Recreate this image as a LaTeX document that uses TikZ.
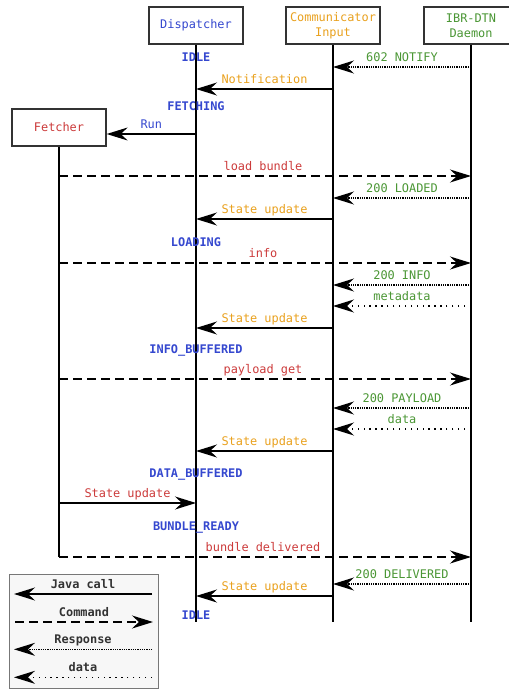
\documentclass[tikz,border=0pt]{standalone}
\usepackage{fontspec}
\setmainfont{DejaVu Sans Mono}
\usetikzlibrary{arrows.meta}
\definecolor{cblue}{HTML}{3548CF}
\definecolor{corange}{HTML}{E9A11E}
\definecolor{cgreen}{HTML}{4A9634}
\definecolor{cred}{HTML}{CC3B3B}
\definecolor{cframe}{HTML}{333333}
\definecolor{lgfill}{HTML}{F7F7F7}
\definecolor{lgframe}{HTML}{777777}
\begin{document}
\begin{tikzpicture}[x=1pt,y=-1pt,
  every node/.style={font=\fontsize{11.9}{15}\selectfont, inner sep=0pt},
  box/.style={draw=cframe, line width=1.3pt, fill=white, minimum width=94pt, minimum height=37pt, align=center},
  life/.style={line width=1.3pt, black},
  tipx/.style={-{Stealth[length=21pt,width=13pt,inset=7pt]}},
  call/.style={tipx, line width=1.3pt},
  cmd/.style={tipx, line width=1.3pt, dash pattern=on 9pt off 5pt},
  resp/.style={tipx, line width=1.2pt, dash pattern=on 1pt off 0.8pt},
  datal/.style={tipx, line width=1.2pt, dash pattern=on 1.3pt off 4.6pt},
  lbl/.style={anchor=base, yshift=6pt},
  state/.style={anchor=base, font=\fontsize{11.9}{15}\selectfont\bfseries, text=cblue},
  lgl/.style={anchor=base, font=\fontsize{11.9}{15}\selectfont\bfseries, text=cframe}]
\useasboundingbox (0,0) rectangle (509,689);

% participants
\node[box, text=cblue] (D) at (196,25.5) {Dispatcher};
\node[box, text=corange] (C) at (333,25.5) {Communicator\\Input};
\node[box, text=cgreen] (I) at (471,25.5) {IBR-DTN\\Daemon};
\node[box, text=cred] (F) at (59,127.5) {Fetcher};

% lifelines
\draw[life] (D.south) -- (D.south |- 0,622);
\draw[life] (C.south) -- (C.south |- 0,622);
\draw[life] (I.south) -- (I.south |- 0,622);
\draw[life] (F.south) -- (F.south |- 0,557);

% messages
\draw[resp] (I |- 0,67) -- node[lbl, text=cgreen] {602 NOTIFY} (C |- 0,67);
\draw[call] (C |- 0,89) -- node[lbl, text=corange] {Notification} (D |- 0,89);
\draw[call] (D |- 0,134) -- node[lbl, text=cblue] {Run} (F.east |- 0,134);
\draw[cmd] (F |- 0,176) -- node[lbl, text=cred, xshift=-2pt] {load bundle} (I |- 0,176);
\draw[resp] (I |- 0,198) -- node[lbl, text=cgreen] {200 LOADED} (C |- 0,198);
\draw[call] (C |- 0,219) -- node[lbl, text=corange] {State update} (D |- 0,219);
\draw[cmd] (F |- 0,263) -- node[lbl, text=cred, xshift=-2pt] {info} (I |- 0,263);
\draw[resp] (I |- 0,285) -- node[lbl, text=cgreen] {200 INFO} (C |- 0,285);
\draw[datal] (I |- 0,306) -- node[lbl, text=cgreen] {metadata} (C |- 0,306);
\draw[call] (C |- 0,328) -- node[lbl, text=corange] {State update} (D |- 0,328);
\draw[cmd] (F |- 0,379) -- node[lbl, text=cred, xshift=-2pt] {payload get} (I |- 0,379);
\draw[resp] (I |- 0,408) -- node[lbl, text=cgreen] {200 PAYLOAD} (C |- 0,408);
\draw[datal] (I |- 0,429) -- node[lbl, text=cgreen] {data} (C |- 0,429);
\draw[call] (C |- 0,451) -- node[lbl, text=corange] {State update} (D |- 0,451);
\draw[call] (F |- 0,503) -- node[lbl, text=cred] {State update} (D |- 0,503);
\draw[cmd] (F |- 0,557) -- node[lbl, text=cred, xshift=-2pt] {bundle delivered} (I |- 0,557);
\draw[resp] (I |- 0,584) -- node[lbl, text=cgreen] {200 DELIVERED} (C |- 0,584);
\draw[call] (C |- 0,596) -- node[lbl, text=corange] {State update} (D |- 0,596);

% states
\node[state] (s1) at (196,61.5) {IDLE};
\node[state] (s2) at (196,110.5) {FETCHING};
\node[state] (s3) at (196,246.5) {LOADING};
\node[state] (s4) at (196,353.5) {INFO\_BUFFERED};
\node[state] (s5) at (196,477) {DATA\_BUFFERED};
\node[state] (s6) at (196,530) {BUNDLE\_READY};
\node[state] (s7) at (196,619.5) {IDLE};

% legend
\node[draw=lgframe, line width=1.3pt, fill=lgfill, minimum width=149pt, minimum height=114pt, anchor=north west] (L) at (9,574) {};
\coordinate (La) at (14,0);
\coordinate (Lb) at (152,0);
\draw[call] (Lb |- 0,594) -- node[lgl, yshift=6pt] {Java call} (La |- 0,594);
\draw[cmd] (15,622) coordinate (Lc) -- node[lgl, yshift=6pt] {Command} (153,622);
\draw[resp] (Lb |- 0,649.3) -- node[lgl, yshift=6pt] {Response} (La |- 0,649.3);
\draw[datal] (Lb |- 0,677.3) -- node[lgl, yshift=6pt] {data} (La |- 0,677.3);
\end{tikzpicture}
\end{document}
